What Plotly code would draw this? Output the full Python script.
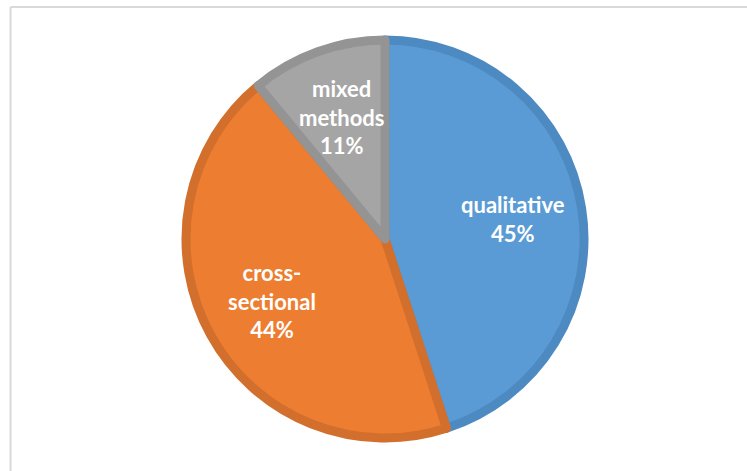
import math
import plotly.graph_objects as go

categories = ["qualitative", "cross-sectional", "mixed methods"]
label_text = ["qualitative", "cross-<br>sectional", "mixed<br>methods"]
values = [45, 44, 11]
fill_colors = ["#5B9BD5", "#ED7D31", "#A5A5A5"]
edge_colors = ["#4E8AC2", "#D26F2C", "#949494"]

W, H = 747, 471
ml, mr, mt, mb = 23, 0, 40, 33
pw, ph = W - ml - mr, H - mt - mb
pie_r = min(pw, ph) / 2
label_frac = 0.65

fig = go.Figure(go.Pie(
    labels=categories,
    values=values,
    textinfo="none",
    sort=False,
    direction="clockwise",
    rotation=0,
    marker=dict(colors=fill_colors, line=dict(color=edge_colors, width=9)),
    hoverinfo="label+percent",
    showlegend=False,
))

# data labels placed at each slice's mid-angle (Excel-style inside labels)
total = sum(values)
annotations = []
cum = 0.0
for lbl, v in zip(label_text, values):
    mid = (cum + v / 2) / total * 2 * math.pi
    cum += v
    dx = pie_r * label_frac * math.sin(mid)
    dy = pie_r * label_frac * math.cos(mid)
    pct = round(v / total * 100)
    annotations.append(dict(
        x=0.5 + dx / pw, y=0.5 + dy / ph, xref="paper", yref="paper",
        text=f"{lbl}<br>{pct}%", showarrow=False, align="center",
        xanchor="center", yanchor="middle",
        font=dict(family="Lato, 'Open Sans', sans-serif", size=22,
                  color="white", weight="bold"),
    ))

def px_x(x):
    return (x - ml) / pw

def px_y(y):
    return (H - mb - y) / ph

fig.update_layout(
    width=W, height=H,
    margin=dict(l=ml, r=mr, t=mt, b=mb),
    paper_bgcolor="white",
    plot_bgcolor="white",
    annotations=annotations,
    shapes=[
        dict(type="line", xref="paper", yref="paper",
             x0=px_x(10.5), x1=px_x(10.5), y0=px_y(7), y1=px_y(475),
             line=dict(color="#D9D9D9", width=2)),
        dict(type="line", xref="paper", yref="paper",
             x0=px_x(10.5), x1=px_x(750), y0=px_y(7), y1=px_y(7),
             line=dict(color="#D9D9D9", width=2)),
    ],
)

fig.write_html("out.html")
